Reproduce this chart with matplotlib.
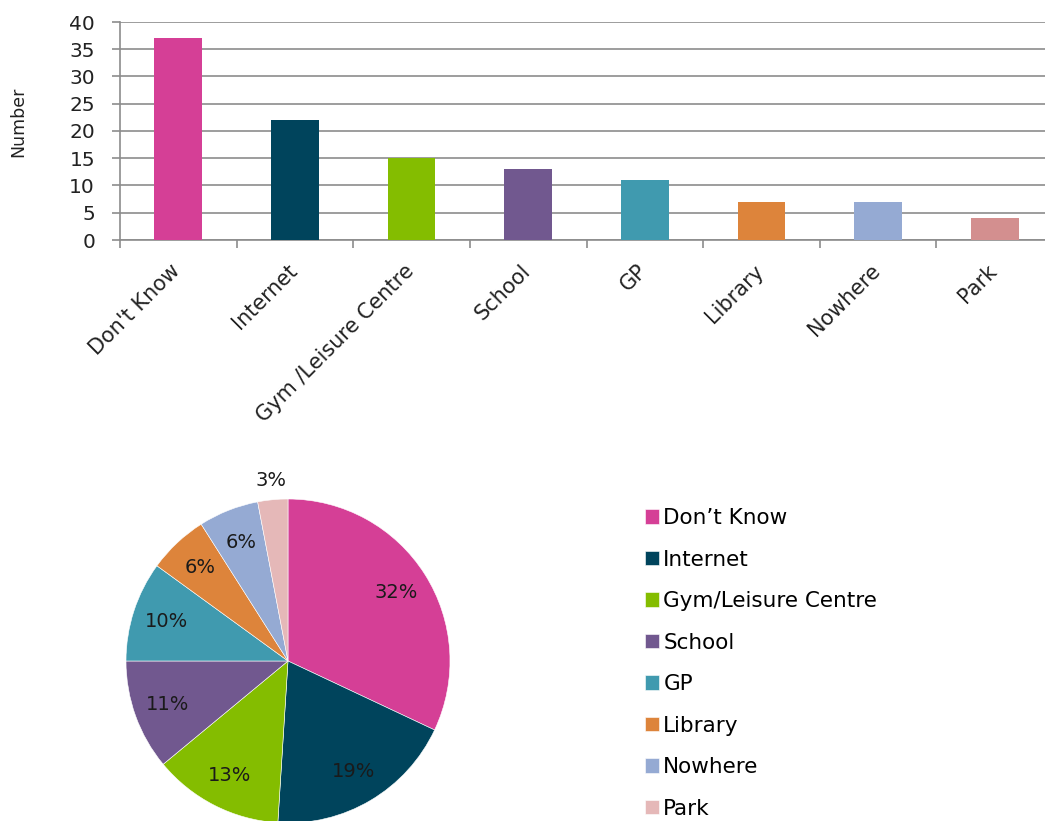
import matplotlib
matplotlib.use("Agg")
import matplotlib.pyplot as plt
import matplotlib.transforms as mtransforms
import numpy as np

# ---- data ----
categories = ["Don\u2019t Know", "Internet", "Gym/Leisure Centre", "School", "GP",
              "Library", "Nowhere", "Park"]
bar_labels = ["Don't Know", "Internet", "Gym /Leisure Centre", "School", "GP",
              "Library", "Nowhere", "Park"]
counts = [37, 22, 15, 13, 11, 7, 7, 4]
pie_pct = [32, 19, 13, 11, 10, 6, 6, 3]
bar_colors = ["#D53F96", "#00445C", "#84BD00", "#71588F", "#409AAF", "#DD843B", "#95AAD3", "#D38F8F"]
pie_colors = ["#D53F96", "#00445C", "#84BD00", "#71588F", "#409AAF", "#DD843B", "#95AAD3", "#E5B8B8"]
y_ticks = [0, 5, 10, 15, 20, 25, 30, 35, 40]

plt.rcParams['font.family'] = ['DejaVu Sans']
W, H = 1045, 821
fig = plt.figure(figsize=(W / 100, H / 100), dpi=100)

# ---- bar chart ----
ax = fig.add_axes([120 / W, 1 - 240 / H, 933 / W, 218 / H])
x = np.arange(len(counts))
ax.bar(x, counts, width=0.41, color=bar_colors, zorder=3)
ax.set_xlim(-0.5, len(counts) - 0.5)
ax.set_ylim(0, 40)
ax.set_yticks(y_ticks)
ax.yaxis.grid(True, color="#8c8c8c", linewidth=1.2, zorder=0)
ax.set_axisbelow(True)
for s in ["top", "right"]:
    ax.spines[s].set_visible(False)
for s in ["left", "bottom"]:
    ax.spines[s].set_color("#8c8c8c")
    ax.spines[s].set_linewidth(1.2)
ax.tick_params(axis="y", length=6, color="#8c8c8c", width=1.2, labelsize=14.5,
               pad=12, labelcolor="#222222")
ax.set_xticks(x)
ax.set_xticklabels(bar_labels, rotation=45, ha="right", va="top", fontsize=15)
ax.tick_params(axis="x", which="major", length=0, pad=15, labelcolor="#222222")
ax.set_xticks(np.arange(-0.5, len(counts), 1.0), minor=True)
ax.tick_params(axis="x", which="minor", length=6, color="#8c8c8c", width=1.2)
offset = mtransforms.ScaledTranslation(6 / 100, 0, fig.dpi_scale_trans)
for lbl in ax.get_xticklabels():
    lbl.set_transform(lbl.get_transform() + offset)
ax.set_ylabel("Number", fontsize=12.5, color="#222222")
ax.yaxis.set_label_coords(-0.099, 0.544)

# ---- pie chart ----
R = 162
pax = fig.add_axes([(288 - R) / W, 1 - (661 + R) / H, 2 * R / W, 2 * R / H])
wedges, _ = pax.pie(pie_pct, colors=pie_colors, startangle=90, counterclock=False,
                    wedgeprops=dict(edgecolor="white", linewidth=0.4))
pax.set_xlim(-1, 1)
pax.set_ylim(-1, 1)
pax.set_aspect("equal")
for i, (w, p) in enumerate(zip(wedges, pie_pct)):
    ang = np.deg2rad((w.theta1 + w.theta2) / 2)
    r = 1.12 if p < 5 else 0.79
    pax.text(r * np.cos(ang), r * np.sin(ang), f"{p}%", ha="center", va="center",
             fontsize=14, color="#1a1a1a")

handles = wedges
fig.legend(handles, categories, loc="upper left", bbox_to_anchor=(645 / W, 1 - 508 / H),
           frameon=False, fontsize=15.5, handlelength=0.65, handleheight=0.65,
           handletextpad=0.2, labelspacing=1.0, borderpad=0, borderaxespad=0)

fig.savefig("out.png", dpi=100)
